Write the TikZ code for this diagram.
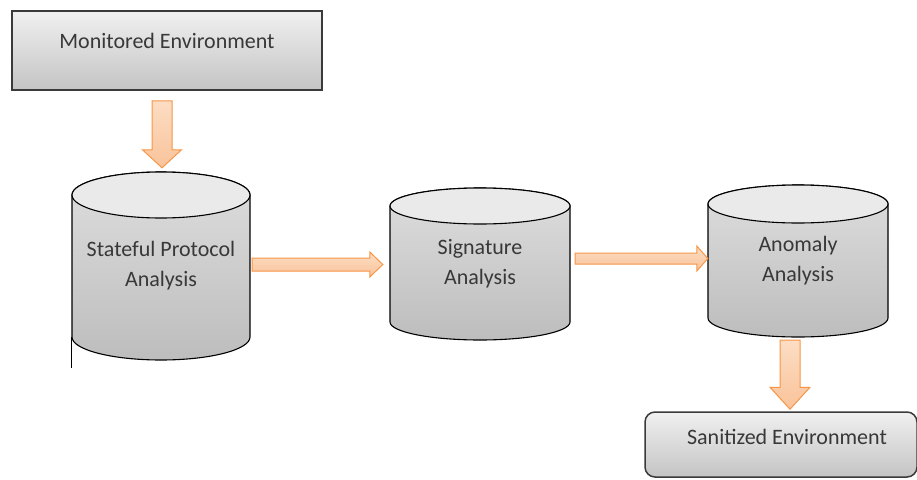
\documentclass[tikz,border=0pt]{standalone}
\usepackage{fontspec}
\setmainfont{Carlito}
\usepackage{tikz}
\usetikzlibrary{calc}

\definecolor{boxline}{HTML}{3A3A3A}
\definecolor{boxtop}{HTML}{F0F0F0}
\definecolor{boxbot}{HTML}{C4C4C4}
\definecolor{cyltop}{HTML}{DEDEDE}
\definecolor{cylbot}{HTML}{BDBDBD}
\definecolor{cylend}{HTML}{EAEAEA}
\definecolor{arrowline}{HTML}{F79646}
\definecolor{arrowtop}{HTML}{FCDDC4}
\definecolor{arrowbot}{HTML}{F9C39A}
\definecolor{labeltext}{HTML}{383838}

% block arrow: start, tip, shaft half width, head half width, head length
\newcommand{\blockarrow}[5]{%
	\coordinate (ah) at ($(#2)!#5!(#1)$);
	\draw[barrow] ($(#1)!#3!90:(#2)$) -- ($(ah)!#3!90:(#2)$) -- ($(ah)!#4!90:(#2)$)
		-- (#2) -- ($(ah)!#4!-90:(#2)$) -- ($(ah)!#3!-90:(#2)$) -- ($(#1)!#3!-90:(#2)$) -- cycle;
}

\begin{document}
\begin{tikzpicture}[x=1pt,y=-1pt,
	every node/.style={text=labeltext,font=\fontsize{22}{30}\selectfont},
	envbox/.style={draw=boxline,line width=1.5pt,top color=boxtop,bottom color=boxbot},
	cyltext/.style={align=center,inner sep=0pt},
	cylbody/.style={draw=black,line width=1.1pt,top color=cyltop,bottom color=cylbot},
	cylcap/.style={draw=black,line width=1.1pt,fill=cylend},
	barrow/.style={draw=arrowline,line width=1pt,line join=miter,top color=arrowtop,bottom color=arrowbot}]
\useasboundingbox (0,0) rectangle (917,479);

%boxes
\node[envbox,minimum width=310pt,minimum height=79pt,text height=16pt,text depth=21pt] (mon) at (167,50.5) {Monitored Environment};
\node[envbox,rounded corners=10pt,minimum width=272pt,minimum height=65pt] (san) at (781,444.5) {};
\node (santext) at (787,437) {Sanitized Environment};

%cylinders
\foreach \nm/\cx/\yt/\yb/\rx/\ry/\txt in {spa/161/195/337/89/23/{Stateful Protocol\\Analysis},
		sig/480/206/322/90/18/{Signature\\Analysis},
		ano/798/204/318/90/19/{Anomaly\\Analysis}}{
	\path[cylbody] (\cx-\rx,\yt) -- (\cx-\rx,\yb) arc[start angle=180,end angle=360,x radius=\rx pt,y radius=\ry pt]
		-- (\cx+\rx,\yt) arc[start angle=0,end angle=180,x radius=\rx pt,y radius=\ry pt] -- cycle;
	\draw[cylcap] (\cx,\yt) ellipse[x radius=\rx pt,y radius=\ry pt];
	\node[cyltext,minimum width={2*\rx pt},minimum height={\yb-\yt}] (\nm) at (\cx,{(\yt+\yb)/2}) {\txt};
}
\draw[line width=1.1pt] (spa.south west) -- ++(0,31);

%arrows
\blockarrow{$(mon.south)+(-5,10)$}{$(spa.north)+(1,-27)$}{10pt}{19.5pt}{18pt}
\blockarrow{$(spa.east)+(2,-1.5)$}{$(sig.west)+(-7,0.5)$}{6.5pt}{12.5pt}{13pt}
\blockarrow{$(sig.east)+(5,-5.5)$}{$(ano.west)+(0,-2.5)$}{5.5pt}{12.5pt}{11pt}
\blockarrow{$(ano.south)+(-8,22)$}{$(san.north)+(9,-2)$}{10pt}{20pt}{22pt}

\end{tikzpicture}
\end{document}
